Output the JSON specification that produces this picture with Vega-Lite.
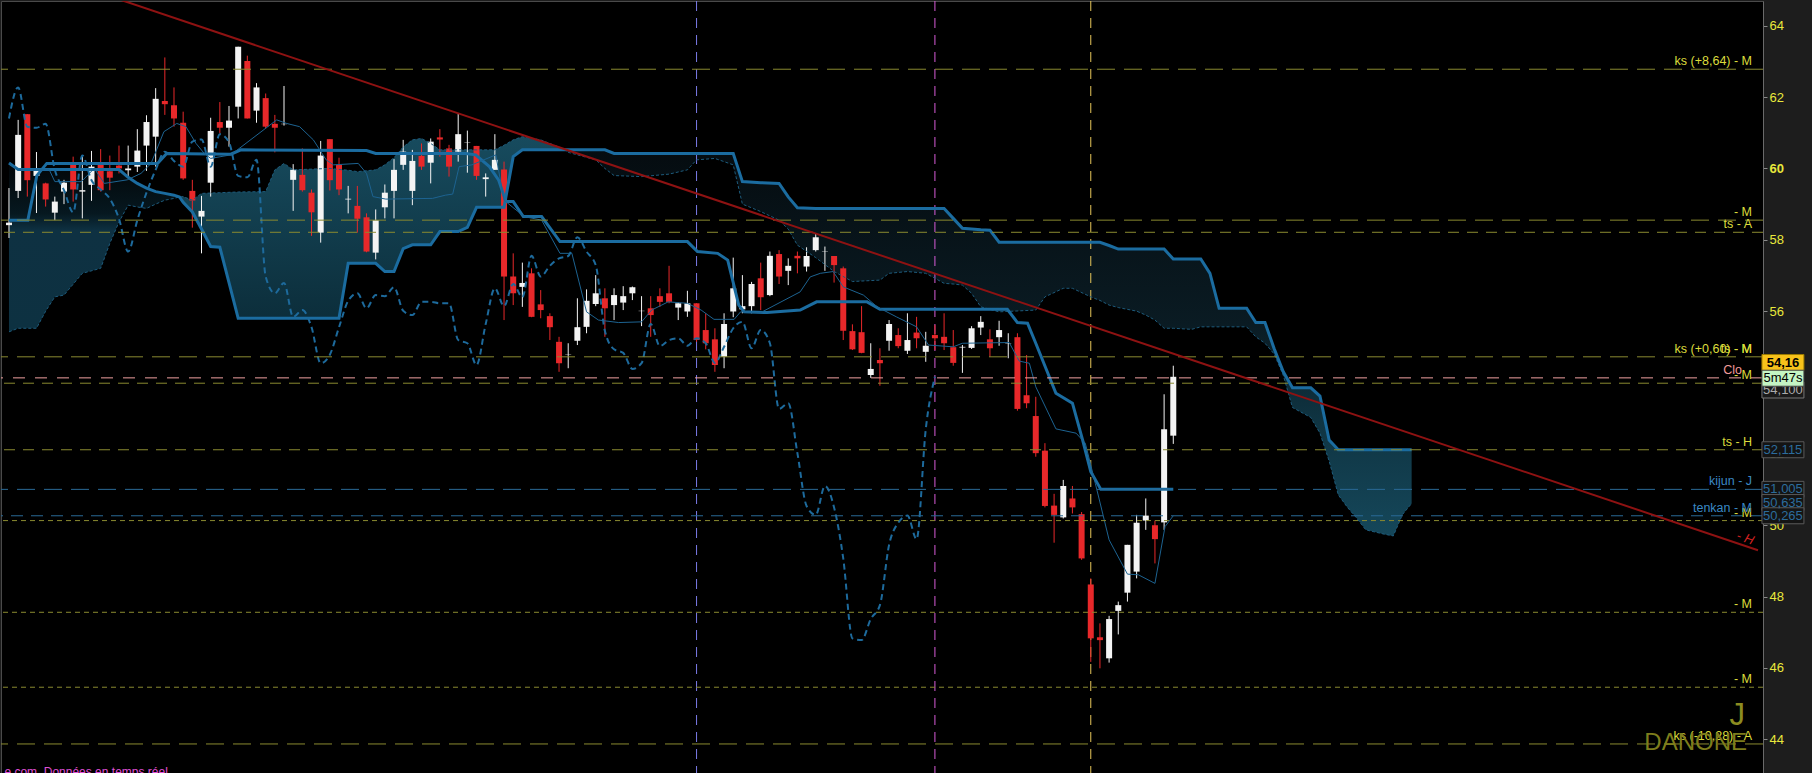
{
"$schema":"https://vega.github.io/schema/vega-lite/v6.json",
"width":1762,"height":772,
"autosize":{"type":"none"},
"padding":{"left":1,"top":1,"right":49,"bottom":0},
"config":{"background":"#1d1d1d","view":{"fill":"#000000","stroke":"#4a4a4a","strokeWidth":1},"font":"Liberation Sans",
 "axisY":{"grid":false,"domainColor":"#6a6a6a","tickColor":"#8a8a8a","tickSize":4,"labelColor":"#e8e83c","labelFont":"Liberation Sans","labelFontSize":13,"labelPadding":2,"labelOverlap":false,"labelFlush":false,"labelBound":false}},
"datasets":{
"candles":[
{"i":0,"o":58.41,"h":59.45,"l":58.05,"c":58.48},
{"i":1,"o":59.37,"h":61.36,"l":59.17,"c":60.94},
{"i":2,"o":61.52,"h":61.52,"l":59.21,"c":59.67},
{"i":3,"o":59.79,"h":60.46,"l":58.75,"c":59.93},
{"i":4,"o":59.58,"h":59.6,"l":58.93,"c":59.13},
{"i":5,"o":58.76,"h":59.21,"l":58.55,"c":59.07},
{"i":6,"o":59.35,"h":59.68,"l":59.0,"c":59.6},
{"i":7,"o":60.1,"h":60.33,"l":59.07,"c":59.41},
{"i":8,"o":59.35,"h":60.33,"l":58.6,"c":59.39},
{"i":9,"o":59.54,"h":60.49,"l":59.09,"c":60.05},
{"i":10,"o":60.1,"h":60.54,"l":59.35,"c":59.39},
{"i":11,"o":59.92,"h":60.36,"l":59.39,"c":59.74},
{"i":12,"o":60.08,"h":60.64,"l":59.86,"c":60.0},
{"i":13,"o":59.95,"h":60.64,"l":59.77,"c":60.0},
{"i":14,"o":60.05,"h":61.1,"l":59.9,"c":60.5},
{"i":15,"o":60.64,"h":61.49,"l":59.93,"c":61.3},
{"i":16,"o":60.89,"h":62.25,"l":60.05,"c":61.95},
{"i":17,"o":61.89,"h":63.11,"l":61.5,"c":61.8},
{"i":18,"o":61.77,"h":62.27,"l":61.17,"c":61.4},
{"i":19,"o":61.28,"h":61.59,"l":59.68,"c":59.72},
{"i":20,"o":59.37,"h":59.68,"l":58.34,"c":59.1},
{"i":21,"o":58.65,"h":59.23,"l":57.62,"c":58.81},
{"i":22,"o":59.6,"h":61.42,"l":59.21,"c":61.05},
{"i":23,"o":61.3,"h":61.86,"l":60.98,"c":61.14},
{"i":24,"o":61.14,"h":61.75,"l":60.61,"c":61.34},
{"i":25,"o":61.73,"h":63.41,"l":61.4,"c":63.41},
{"i":26,"o":63.01,"h":63.16,"l":61.4,"c":61.4},
{"i":27,"o":61.62,"h":62.39,"l":61.28,"c":62.27},
{"i":28,"o":61.97,"h":62.1,"l":61.12,"c":61.17},
{"i":29,"o":61.25,"h":61.5,"l":60.45,"c":61.14},
{"i":30,"o":61.24,"h":62.31,"l":61.2,"c":61.25},
{"i":31,"o":59.68,"h":60.12,"l":58.81,"c":59.96},
{"i":32,"o":59.82,"h":60.56,"l":59.35,"c":59.39},
{"i":33,"o":59.32,"h":59.41,"l":58.11,"c":58.77},
{"i":34,"o":58.2,"h":60.77,"l":57.92,"c":60.36},
{"i":35,"o":60.82,"h":60.82,"l":59.38,"c":59.67},
{"i":36,"o":60.1,"h":60.3,"l":59.25,"c":59.41},
{"i":37,"o":59.13,"h":59.51,"l":58.74,"c":59.15},
{"i":38,"o":58.95,"h":59.51,"l":58.2,"c":58.59},
{"i":39,"o":58.63,"h":58.74,"l":57.65,"c":57.67},
{"i":40,"o":57.64,"h":58.85,"l":57.45,"c":58.55},
{"i":41,"o":58.91,"h":59.55,"l":58.6,"c":59.32},
{"i":42,"o":59.37,"h":60.26,"l":58.6,"c":59.96},
{"i":43,"o":60.1,"h":60.8,"l":59.96,"c":60.47},
{"i":44,"o":59.37,"h":60.52,"l":58.97,"c":60.21},
{"i":45,"o":60.35,"h":60.7,"l":59.96,"c":60.05},
{"i":46,"o":60.16,"h":60.84,"l":59.58,"c":60.75},
{"i":47,"o":60.87,"h":61.1,"l":60.33,"c":60.81},
{"i":48,"o":60.56,"h":60.66,"l":59.77,"c":60.05},
{"i":49,"o":60.47,"h":61.54,"l":60.19,"c":60.96},
{"i":50,"o":60.72,"h":61.06,"l":59.88,"c":60.73},
{"i":51,"o":60.63,"h":60.63,"l":59.68,"c":59.79},
{"i":52,"o":59.7,"h":59.86,"l":59.21,"c":59.75},
{"i":53,"o":59.96,"h":60.96,"l":59.96,"c":60.24},
{"i":54,"o":59.97,"h":60.19,"l":55.75,"c":56.97},
{"i":55,"o":56.97,"h":57.62,"l":56.17,"c":56.5},
{"i":56,"o":56.68,"h":57.36,"l":56.12,"c":56.79},
{"i":57,"o":57.06,"h":57.2,"l":55.83,"c":55.84},
{"i":58,"o":56.19,"h":56.59,"l":55.8,"c":56.03},
{"i":59,"o":55.86,"h":55.94,"l":55.19,"c":55.55},
{"i":60,"o":55.14,"h":55.28,"l":54.3,"c":54.54},
{"i":61,"o":54.77,"h":55.1,"l":54.4,"c":54.78},
{"i":62,"o":55.17,"h":56.36,"l":55.05,"c":55.55},
{"i":63,"o":55.56,"h":56.61,"l":55.38,"c":56.29},
{"i":64,"o":56.2,"h":57.01,"l":56.14,"c":56.5},
{"i":65,"o":56.36,"h":56.64,"l":55.28,"c":56.08},
{"i":66,"o":56.17,"h":56.64,"l":55.75,"c":56.45},
{"i":67,"o":56.24,"h":56.7,"l":56.03,"c":56.42},
{"i":68,"o":56.5,"h":56.69,"l":56.31,"c":56.67},
{"i":69,"o":56.0,"h":56.42,"l":55.58,"c":56.01},
{"i":70,"o":56.08,"h":56.42,"l":55.28,"c":55.89},
{"i":71,"o":56.42,"h":56.64,"l":56.12,"c":56.26},
{"i":72,"o":56.5,"h":57.27,"l":56.22,"c":56.26},
{"i":73,"o":56.1,"h":56.24,"l":55.75,"c":56.22},
{"i":74,"o":55.99,"h":56.57,"l":55.84,"c":56.22},
{"i":75,"o":56.22,"h":56.22,"l":55.14,"c":55.19},
{"i":76,"o":55.47,"h":55.94,"l":54.93,"c":55.1},
{"i":77,"o":55.21,"h":55.52,"l":54.3,"c":54.49},
{"i":78,"o":54.72,"h":55.94,"l":54.4,"c":55.64},
{"i":79,"o":55.99,"h":57.5,"l":55.83,"c":56.64},
{"i":80,"o":56.05,"h":57.01,"l":55.94,"c":56.14},
{"i":81,"o":56.14,"h":56.82,"l":55.94,"c":56.76},
{"i":82,"o":56.92,"h":57.36,"l":56.03,"c":56.39},
{"i":83,"o":56.45,"h":57.67,"l":56.42,"c":57.55},
{"i":84,"o":57.6,"h":57.71,"l":56.76,"c":56.97},
{"i":85,"o":57.13,"h":57.48,"l":56.73,"c":57.27},
{"i":86,"o":57.55,"h":57.67,"l":57.06,"c":57.48},
{"i":87,"o":57.25,"h":57.79,"l":57.11,"c":57.545},
{"i":88,"o":57.71,"h":58.18,"l":57.67,"c":58.07},
{"i":89,"o":57.66,"h":57.81,"l":57.13,"c":57.67},
{"i":90,"o":57.545,"h":57.545,"l":56.8,"c":57.29},
{"i":91,"o":57.2,"h":57.25,"l":55.19,"c":55.45},
{"i":92,"o":55.44,"h":55.63,"l":54.91,"c":54.93},
{"i":93,"o":55.41,"h":56.14,"l":54.82,"c":54.83},
{"i":94,"o":54.21,"h":55.1,"l":54.13,"c":54.38},
{"i":95,"o":54.63,"h":54.96,"l":53.91,"c":54.54},
{"i":96,"o":55.17,"h":55.75,"l":54.89,"c":55.64},
{"i":97,"o":55.33,"h":55.52,"l":54.96,"c":55.02},
{"i":98,"o":54.89,"h":55.94,"l":54.8,"c":55.19},
{"i":99,"o":55.4,"h":55.84,"l":54.96,"c":55.24},
{"i":100,"o":54.86,"h":55.42,"l":54.58,"c":55.03},
{"i":101,"o":55.33,"h":55.61,"l":54.91,"c":55.24},
{"i":102,"o":55.28,"h":55.94,"l":54.91,"c":55.1},
{"i":103,"o":54.99,"h":55.47,"l":54.47,"c":54.55},
{"i":104,"o":54.98,"h":55.05,"l":54.27,"c":55.0},
{"i":105,"o":54.97,"h":55.58,"l":54.94,"c":55.52},
{"i":106,"o":55.54,"h":55.86,"l":55.33,"c":55.7},
{"i":107,"o":55.21,"h":55.49,"l":54.72,"c":54.96},
{"i":108,"o":55.27,"h":55.73,"l":55.03,"c":55.47},
{"i":109,"o":55.09,"h":55.38,"l":54.68,"c":55.1},
{"i":110,"o":55.27,"h":55.38,"l":53.21,"c":53.26},
{"i":111,"o":53.64,"h":54.77,"l":53.28,"c":53.42},
{"i":112,"o":53.06,"h":53.6,"l":51.92,"c":52.02},
{"i":113,"o":52.09,"h":52.3,"l":50.5,"c":50.54},
{"i":114,"o":50.55,"h":50.88,"l":49.51,"c":50.29},
{"i":115,"o":50.22,"h":51.27,"l":50.19,"c":51.1},
{"i":116,"o":50.75,"h":51.1,"l":50.33,"c":50.5},
{"i":117,"o":50.31,"h":50.37,"l":49.03,"c":49.07},
{"i":118,"o":48.34,"h":48.51,"l":46.17,"c":46.83},
{"i":119,"o":46.86,"h":47.25,"l":45.99,"c":46.78},
{"i":120,"o":46.27,"h":47.46,"l":46.15,"c":47.37},
{"i":121,"o":47.6,"h":47.86,"l":46.94,"c":47.76},
{"i":122,"o":48.11,"h":49.45,"l":47.86,"c":49.45},
{"i":123,"o":48.7,"h":50.29,"l":48.51,"c":50.07},
{"i":124,"o":50.13,"h":50.75,"l":49.87,"c":50.27},
{"i":125,"o":50.0,"h":50.13,"l":48.93,"c":49.61},
{"i":126,"o":50.08,"h":53.67,"l":49.87,"c":52.69},
{"i":127,"o":52.51,"h":54.47,"l":52.28,"c":54.16}
],
"cloud":[
{"i":0,"a":55.42,"b":60.15},{"i":1,"a":55.52,"b":59.97},{"i":3,"a":55.52,"b":59.97},{"i":4,"a":56.0,"b":59.97},{"i":5,"a":56.4,"b":59.97},{"i":6,"a":56.45,"b":59.97},{"i":8,"a":57.06,"b":59.97},{"i":10,"a":57.2,"b":59.97},{"i":11,"a":57.9,"b":59.97},{"i":12,"a":58.5,"b":59.97},{"i":13,"a":58.97,"b":59.75},{"i":14,"a":58.92,"b":59.58},{"i":15,"a":58.88,"b":59.45},{"i":16,"a":59.0,"b":59.35},{"i":17,"a":59.11,"b":59.3},{"i":18,"a":59.16,"b":59.25},{"i":18.6,"a":59.2,"b":59.2},{"i":19,"a":59.21,"b":59.05},{"i":20,"a":59.11,"b":58.78},{"i":21,"a":59.3,"b":58.3},{"i":22,"a":59.31,"b":57.81},{"i":23,"a":59.32,"b":57.79},{"i":24,"a":59.33,"b":56.8},{"i":25,"a":59.34,"b":55.8},{"i":28,"a":59.35,"b":55.8},{"i":29,"a":59.96,"b":55.8},{"i":30,"a":60.14,"b":55.8},{"i":31,"a":59.96,"b":55.8},{"i":35,"a":60.0,"b":55.8},{"i":36,"a":59.97,"b":55.8},{"i":37,"a":59.95,"b":57.34},{"i":38,"a":59.91,"b":57.34},{"i":40,"a":59.96,"b":57.34},{"i":41,"a":60.1,"b":57.11},{"i":42,"a":60.3,"b":57.11},{"i":43,"a":60.6,"b":57.75},{"i":44,"a":60.8,"b":57.86},{"i":45,"a":60.84,"b":57.86},{"i":46,"a":60.7,"b":57.86},{"i":47,"a":60.52,"b":58.23},{"i":49,"a":60.52,"b":58.23},{"i":50,"a":60.52,"b":58.35},{"i":51,"a":60.52,"b":58.91},{"i":53,"a":60.52,"b":58.91},{"i":54,"a":60.65,"b":58.91},{"i":55,"a":60.8,"b":60.33},{"i":56,"a":60.89,"b":60.52},{"i":58,"a":60.8,"b":60.52},{"i":60,"a":60.6,"b":60.52},{"i":60.6,"a":60.52,"b":60.52},{"i":61,"a":60.45,"b":60.52},{"i":64,"a":60.24,"b":60.52},{"i":65,"a":60.0,"b":60.52},{"i":66,"a":59.8,"b":60.42},{"i":69,"a":59.77,"b":60.42},{"i":72,"a":59.84,"b":60.42},{"i":74,"a":59.96,"b":60.42},{"i":75,"a":60.24,"b":60.42},{"i":77,"a":60.28,"b":60.42},{"i":79,"a":60.1,"b":60.42},{"i":80,"a":59.0,"b":59.63},{"i":82,"a":58.79,"b":59.6},{"i":84,"a":58.55,"b":59.58},{"i":85,"a":58.3,"b":59.2},{"i":86,"a":57.85,"b":58.9},{"i":88,"a":57.5,"b":58.88},{"i":90,"a":57.11,"b":58.88},{"i":92,"a":56.83,"b":58.88},{"i":95,"a":56.87,"b":58.88},{"i":96,"a":57.06,"b":58.88},{"i":98,"a":57.11,"b":58.88},{"i":100,"a":57.06,"b":58.88},{"i":102,"a":56.78,"b":58.88},{"i":103,"a":56.76,"b":58.6},{"i":104,"a":56.73,"b":58.32},{"i":105,"a":56.5,"b":58.3},{"i":106,"a":56.12,"b":58.28},{"i":107,"a":56.05,"b":58.27},{"i":108,"a":55.98,"b":57.93},{"i":112,"a":56.03,"b":57.93},{"i":113,"a":56.4,"b":57.93},{"i":115,"a":56.64,"b":57.93},{"i":116,"a":56.64,"b":57.93},{"i":118,"a":56.4,"b":57.93},{"i":119,"a":56.3,"b":57.93},{"i":120,"a":56.17,"b":57.84},{"i":121,"a":56.1,"b":57.74},{"i":123,"a":56.0,"b":57.74},{"i":124,"a":55.89,"b":57.74},{"i":125,"a":55.75,"b":57.74},{"i":126,"a":55.52,"b":57.74},{"i":127,"a":55.52,"b":57.46},{"i":129,"a":55.49,"b":57.46},{"i":130,"a":55.56,"b":57.46},{"i":131,"a":55.56,"b":57.06},{"i":132,"a":55.56,"b":56.08},{"i":135,"a":55.56,"b":56.08},{"i":136,"a":55.28,"b":55.68},{"i":137,"a":55.1,"b":55.68},{"i":138,"a":54.8,"b":54.95},{"i":139,"a":54.2,"b":54.3},{"i":140,"a":53.3,"b":53.85},{"i":142,"a":53.02,"b":53.85},{"i":143,"a":52.58,"b":53.62},{"i":144,"a":51.8,"b":52.39},{"i":145,"a":50.85,"b":52.115},{"i":146,"a":50.5,"b":52.115},{"i":147,"a":50.2,"b":52.115},{"i":148,"a":49.87,"b":52.115},{"i":150,"a":49.75,"b":52.115},{"i":151,"a":49.7,"b":52.115},{"i":152,"a":50.3,"b":52.115},{"i":153,"a":50.61,"b":52.115}
],
"kijun":[
{"i":0,"v":58.55},{"i":2.06,"v":58.55},{"i":3.04,"v":59.8},{"i":4.12,"v":60.14},{"i":16.2,"v":60.14},{"i":17.2,"v":60.42},{"i":24.2,"v":60.4},{"i":25.3,"v":60.52},{"i":39,"v":60.5},{"i":40,"v":60.42},{"i":49.8,"v":60.42},{"i":50.9,"v":60.38},{"i":52.4,"v":60.05},{"i":53.4,"v":59.68},{"i":54.2,"v":59.07},{"i":55,"v":59.07},{"i":56.1,"v":58.65},{"i":58.1,"v":58.65},{"i":60.1,"v":57.95},{"i":74,"v":57.95},{"i":75.1,"v":57.67},{"i":77.3,"v":57.62},{"i":78.4,"v":57.43},{"i":79.6,"v":56.17},{"i":80.2,"v":55.98},{"i":82.7,"v":55.96},{"i":86.3,"v":56.03},{"i":88.1,"v":56.26},{"i":93.6,"v":56.26},{"i":95,"v":56.05},{"i":108.9,"v":56.05},{"i":110,"v":55.68},{"i":111.1,"v":55.66},{"i":112,"v":55.1},{"i":114.2,"v":53.7},{"i":116,"v":53.42},{"i":117.1,"v":52.4},{"i":118,"v":51.5},{"i":119.1,"v":51.005},{"i":127,"v":51.005}
],
"tenkan":[
{"i":0,"v":60.14},{"i":1,"v":59.96},{"i":4.4,"v":59.96},{"i":5,"v":59.63},{"i":7.9,"v":59.63},{"i":9.3,"v":60.0},{"i":10.4,"v":59.58},{"i":12.9,"v":59.68},{"i":14.4,"v":59.86},{"i":15.5,"v":60.14},{"i":16.9,"v":61.03},{"i":18.3,"v":61.26},{"i":19.3,"v":61.17},{"i":20.4,"v":60.7},{"i":21.3,"v":60.42},{"i":22,"v":60.28},{"i":24.2,"v":60.38},{"i":29.2,"v":61.36},{"i":30.3,"v":61.26},{"i":31.7,"v":61.17},{"i":33.2,"v":60.8},{"i":34.6,"v":60.24},{"i":35.4,"v":60.1},{"i":38.1,"v":60.14},{"i":39,"v":59.86},{"i":39.7,"v":59.21},{"i":41.1,"v":59.14},{"i":46.2,"v":59.16},{"i":47.6,"v":59.25},{"i":48.4,"v":59.28},{"i":49.1,"v":60.05},{"i":50.5,"v":60.1},{"i":53.1,"v":60.38},{"i":53.4,"v":59.96},{"i":54,"v":59.11},{"i":56.2,"v":58.65},{"i":58.1,"v":58.55},{"i":60.1,"v":57.62},{"i":61.4,"v":57.62},{"i":63,"v":55.98},{"i":64.3,"v":55.75},{"i":66.5,"v":55.68},{"i":69,"v":55.7},{"i":70.1,"v":56.03},{"i":71.9,"v":56.26},{"i":74,"v":56.22},{"i":75.5,"v":56.03},{"i":76.9,"v":55.77},{"i":79.1,"v":55.77},{"i":79.8,"v":55.98},{"i":82,"v":55.96},{"i":86.3,"v":56.54},{"i":87.4,"v":56.96},{"i":88.5,"v":57.06},{"i":89.9,"v":57.11},{"i":91,"v":56.68},{"i":93.2,"v":56.45},{"i":94.7,"v":56.12},{"i":96.8,"v":55.84},{"i":99,"v":55.56},{"i":100.3,"v":55.05},{"i":103,"v":55.0},{"i":104,"v":55.1},{"i":109.1,"v":55.12},{"i":110.2,"v":54.6},{"i":111.3,"v":54.54},{"i":112,"v":53.88},{"i":114.2,"v":52.7},{"i":116.4,"v":52.58},{"i":117.4,"v":52.3},{"i":118.5,"v":51.17},{"i":120,"v":49.59},{"i":122,"v":48.63},{"i":123.2,"v":48.61},{"i":125,"v":48.37},{"i":126.1,"v":49.96},{"i":127,"v":50.265}
],
"chikou":[
{"i":0,"v":61.4},{"i":1,"v":62.27},{"i":2,"v":61.17},{"i":3,"v":61.14},{"i":4,"v":61.25},{"i":5,"v":59.96},{"i":6,"v":59.39},{"i":7,"v":58.77},{"i":8,"v":60.36},{"i":9,"v":59.67},{"i":10,"v":59.41},{"i":11,"v":59.15},{"i":12,"v":58.59},{"i":13,"v":57.67},{"i":14,"v":58.55},{"i":15,"v":59.32},{"i":16,"v":59.96},{"i":17,"v":60.47},{"i":18,"v":60.21},{"i":19,"v":60.05},{"i":20,"v":60.75},{"i":21,"v":60.81},{"i":22,"v":60.05},{"i":23,"v":60.96},{"i":24,"v":60.73},{"i":25,"v":59.79},{"i":26,"v":59.75},{"i":27,"v":60.24},{"i":28,"v":56.97},{"i":29,"v":56.5},{"i":30,"v":56.79},{"i":31,"v":55.84},{"i":32,"v":56.03},{"i":33,"v":55.55},{"i":34,"v":54.54},{"i":35,"v":54.78},{"i":36,"v":55.55},{"i":37,"v":56.29},{"i":38,"v":56.5},{"i":39,"v":56.08},{"i":40,"v":56.45},{"i":41,"v":56.42},{"i":42,"v":56.67},{"i":43,"v":56.01},{"i":44,"v":55.89},{"i":45,"v":56.26},{"i":46,"v":56.26},{"i":47,"v":56.22},{"i":48,"v":56.22},{"i":49,"v":55.19},{"i":50,"v":55.1},{"i":51,"v":54.49},{"i":52,"v":55.64},{"i":53,"v":56.64},{"i":54,"v":56.14},{"i":55,"v":56.76},{"i":56,"v":56.39},{"i":57,"v":57.55},{"i":58,"v":56.97},{"i":59,"v":57.27},{"i":60,"v":57.48},{"i":61,"v":57.545},{"i":62,"v":58.07},{"i":63,"v":57.67},{"i":64,"v":57.29},{"i":65,"v":55.45},{"i":66,"v":54.93},{"i":67,"v":54.83},{"i":68,"v":54.38},{"i":69,"v":54.54},{"i":70,"v":55.64},{"i":71,"v":55.02},{"i":72,"v":55.19},{"i":73,"v":55.24},{"i":74,"v":55.03},{"i":75,"v":55.24},{"i":76,"v":55.1},{"i":77,"v":54.55},{"i":78,"v":55.0},{"i":79,"v":55.52},{"i":80,"v":55.7},{"i":81,"v":54.96},{"i":82,"v":55.47},{"i":83,"v":55.1},{"i":84,"v":53.26},{"i":85,"v":53.42},{"i":86,"v":52.02},{"i":87,"v":50.54},{"i":88,"v":50.29},{"i":89,"v":51.1},{"i":90,"v":50.5},{"i":91,"v":49.07},{"i":92,"v":46.83},{"i":93,"v":46.78},{"i":94,"v":47.37},{"i":95,"v":47.76},{"i":96,"v":49.45},{"i":97,"v":50.07},{"i":98,"v":50.27},{"i":99,"v":49.61},{"i":100,"v":52.69},{"i":101,"v":54.16}
]
},
"layer":[
{"data":{"name":"cloud"},"transform":[{"filter":"datum.i <= 18.6"}],
 "mark":{"type":"area","color":{"gradient":"linear","x1":0,"y1":0,"x2":0,"y2":1,"stops":[{"offset":0,"color":"#020608"},{"offset":0.3,"color":"#061820"},{"offset":0.4,"color":"#0e3142"},{"offset":1,"color":"#0d3141"}]}},
 "encoding":{"x":{"field":"i","type":"quantitative","scale":{"domain":[-0.325,190.78],"nice":false,"zero":false},"axis":null},
  "y":{"field":"a","type":"quantitative","scale":{"domain":[43.056,64.692],"nice":false,"zero":false},
   "axis":{"orient":"right","values":[44,46,48,50,52,54,56,58,60,62,64],"title":null,"labelFontWeight":{"condition":{"test":"datum.value == 60","value":"bold"},"value":"normal"}}},
  "y2":{"field":"b"}}},
{"data":{"name":"cloud"},"transform":[{"filter":"datum.i >= 18.6 && datum.i <= 60.6"}],
 "mark":{"type":"area","color":{"gradient":"linear","x1":0,"y1":0,"x2":0,"y2":1,"stops":[{"offset":0,"color":"#174b5e"},{"offset":1,"color":"#0c2e3b"}]}},
 "encoding":{"x":{"field":"i","type":"quantitative","scale":{"domain":[-0.325,190.78],"nice":false,"zero":false},"axis":null},
  "y":{"field":"a","type":"quantitative","scale":{"domain":[43.056,64.692],"nice":false,"zero":false},"axis":{"orient":"right","values":[44,46,48,50,52,54,56,58,60,62,64],"title":null}},"y2":{"field":"b"}}},
{"data":{"name":"cloud"},"transform":[{"filter":"datum.i >= 60.6"}],
 "mark":{"type":"area","color":{"gradient":"linear","x1":0,"y1":0,"x2":0,"y2":1,"stops":[{"offset":0,"color":"#050c10"},{"offset":0.45,"color":"#0a1b23"},{"offset":0.7,"color":"#0f3442"},{"offset":1,"color":"#15475a"}]}},
 "encoding":{"x":{"field":"i","type":"quantitative","scale":{"domain":[-0.325,190.78],"nice":false,"zero":false},"axis":null},
  "y":{"field":"a","type":"quantitative","scale":{"domain":[43.056,64.692],"nice":false,"zero":false},"axis":{"orient":"right","values":[44,46,48,50,52,54,56,58,60,62,64],"title":null}},"y2":{"field":"b"}}},
{"data":{"values":[{"i":75}]},"mark":{"type":"rule","color":"#7b7be8","strokeDash":[10,7],"strokeWidth":1},
 "encoding":{"x":{"field":"i","type":"quantitative","scale":{"domain":[-0.325,190.78],"nice":false,"zero":false},"axis":null}}},
{"data":{"values":[{"i":101}]},"mark":{"type":"rule","color":"#d85cd8","strokeDash":[10,7],"strokeWidth":1},
 "encoding":{"x":{"field":"i","type":"quantitative","scale":{"domain":[-0.325,190.78],"nice":false,"zero":false},"axis":null}}},
{"data":{"values":[{"i":118}]},"mark":{"type":"rule","color":"#e8c85a","strokeDash":[10,7],"strokeWidth":1},
 "encoding":{"x":{"field":"i","type":"quantitative","scale":{"domain":[-0.325,190.78],"nice":false,"zero":false},"axis":null}}},
{"data":{"name":"candles"},"mark":{"type":"rule","strokeWidth":1},
 "encoding":{"x":{"field":"i","type":"quantitative","scale":{"domain":[-0.325,190.78],"nice":false,"zero":false},"axis":null},
  "y":{"field":"l","type":"quantitative","scale":{"domain":[43.056,64.692],"nice":false,"zero":false},"axis":{"orient":"right","values":[44,46,48,50,52,54,56,58,60,62,64],"title":null}},"y2":{"field":"h"},
  "color":{"condition":{"test":"datum.c >= datum.o","value":"#f4f4f4"},"value":"#e8282a"}}},
{"data":{"name":"candles"},"mark":{"type":"bar","width":6},
 "encoding":{"x":{"field":"i","type":"quantitative","scale":{"domain":[-0.325,190.78],"nice":false,"zero":false},"axis":null},
  "y":{"field":"o","type":"quantitative","scale":{"domain":[43.056,64.692],"nice":false,"zero":false},"axis":{"orient":"right","values":[44,46,48,50,52,54,56,58,60,62,64],"title":null}},"y2":{"field":"c"},
  "color":{"condition":{"test":"datum.c >= datum.o","value":"#f4f4f4"},"value":"#e8282a"}}},
{"data":{"name":"cloud"},"mark":{"type":"line","color":"#1d5b7c","strokeWidth":1,"strokeDash":[3,2]},
 "encoding":{"x":{"field":"i","type":"quantitative","scale":{"domain":[-0.325,190.78],"nice":false,"zero":false},"axis":null},
  "y":{"field":"a","type":"quantitative","scale":{"domain":[43.056,64.692],"nice":false,"zero":false},"axis":{"orient":"right","values":[44,46,48,50,52,54,56,58,60,62,64],"title":null}}}},
{"data":{"name":"cloud"},"mark":{"type":"line","color":"#1b6ca0","strokeWidth":3},
 "encoding":{"x":{"field":"i","type":"quantitative","scale":{"domain":[-0.325,190.78],"nice":false,"zero":false},"axis":null},
  "y":{"field":"b","type":"quantitative","scale":{"domain":[43.056,64.692],"nice":false,"zero":false},"axis":{"orient":"right","values":[44,46,48,50,52,54,56,58,60,62,64],"title":null}}}},
{"data":{"name":"kijun"},"mark":{"type":"line","color":"#1b6ca0","strokeWidth":3},
 "encoding":{"x":{"field":"i","type":"quantitative","scale":{"domain":[-0.325,190.78],"nice":false,"zero":false},"axis":null},
  "y":{"field":"v","type":"quantitative","scale":{"domain":[43.056,64.692],"nice":false,"zero":false},"axis":{"orient":"right","values":[44,46,48,50,52,54,56,58,60,62,64],"title":null}}}},
{"data":{"name":"tenkan"},"mark":{"type":"line","color":"#1d6391","strokeWidth":1},
 "encoding":{"x":{"field":"i","type":"quantitative","scale":{"domain":[-0.325,190.78],"nice":false,"zero":false},"axis":null},
  "y":{"field":"v","type":"quantitative","scale":{"domain":[43.056,64.692],"nice":false,"zero":false},"axis":{"orient":"right","values":[44,46,48,50,52,54,56,58,60,62,64],"title":null}}}},
{"data":{"name":"chikou"},"mark":{"type":"line","color":"#1d6a9c","strokeWidth":2,"strokeDash":[6,4],"interpolate":"monotone"},
 "encoding":{"x":{"field":"i","type":"quantitative","scale":{"domain":[-0.325,190.78],"nice":false,"zero":false},"axis":null},
  "y":{"field":"v","type":"quantitative","scale":{"domain":[43.056,64.692],"nice":false,"zero":false},"axis":{"orient":"right","values":[44,46,48,50,52,54,56,58,60,62,64],"title":null}}}},
{"data":{"values":[{"v":62.78},{"v":58.55},{"v":54.72},{"v":43.87}]},"mark":{"type":"rule","color":"#8a8a30","strokeDash":[18,9],"strokeWidth":1},
 "encoding":{"y":{"field":"v","type":"quantitative","scale":{"domain":[43.056,64.692],"nice":false,"zero":false},"axis":{"orient":"right","values":[44,46,48,50,52,54,56,58,60,62,64],"title":null}}}},
{"data":{"values":[{"v":58.21},{"v":52.115},{"v":53.98}]},"mark":{"type":"rule","color":"#8a8a30","strokeDash":[11,8],"strokeWidth":1},
 "encoding":{"y":{"field":"v","type":"quantitative","scale":{"domain":[43.056,64.692],"nice":false,"zero":false},"axis":{"orient":"right","values":[44,46,48,50,52,54,56,58,60,62,64],"title":null}}}},
{"data":{"values":[{"v":50.13},{"v":47.56},{"v":45.46}]},"mark":{"type":"rule","color":"#8a8a30","strokeDash":[5,4],"strokeWidth":1},
 "encoding":{"y":{"field":"v","type":"quantitative","scale":{"domain":[43.056,64.692],"nice":false,"zero":false},"axis":{"orient":"right","values":[44,46,48,50,52,54,56,58,60,62,64],"title":null}}}},
{"data":{"values":[{"v":54.13}]},"mark":{"type":"rule","color":"#f0a0a0","strokeDash":[12,10],"strokeWidth":1},
 "encoding":{"y":{"field":"v","type":"quantitative","scale":{"domain":[43.056,64.692],"nice":false,"zero":false},"axis":{"orient":"right","values":[44,46,48,50,52,54,56,58,60,62,64],"title":null}}}},
{"data":{"values":[{"v":51.005}]},"mark":{"type":"rule","color":"#2a6a96","strokeDash":[18,9],"strokeWidth":1},
 "encoding":{"y":{"field":"v","type":"quantitative","scale":{"domain":[43.056,64.692],"nice":false,"zero":false},"axis":{"orient":"right","values":[44,46,48,50,52,54,56,58,60,62,64],"title":null}}}},
{"data":{"values":[{"v":50.265}]},"mark":{"type":"rule","color":"#2a6a96","strokeDash":[12,8],"strokeWidth":1},
 "encoding":{"y":{"field":"v","type":"quantitative","scale":{"domain":[43.056,64.692],"nice":false,"zero":false},"axis":{"orient":"right","values":[44,46,48,50,52,54,56,58,60,62,64],"title":null}}}},
{"data":{"values":[{"i":12.22,"v":64.72},{"i":190.78,"v":49.3}]},"mark":{"type":"line","color":"#8e1212","strokeWidth":2,"clip":true},
 "encoding":{"x":{"field":"i","type":"quantitative","scale":{"domain":[-0.325,190.78],"nice":false,"zero":false},"axis":null},
  "y":{"field":"v","type":"quantitative","scale":{"domain":[43.056,64.692],"nice":false,"zero":false},"axis":{"orient":"right","values":[44,46,48,50,52,54,56,58,60,62,64],"title":null}}}},
{"data":{"values":[{"v":62.78,"t":"ks (+8,64) - M"},{"v":58.55,"t":"- M"},{"v":58.21,"t":"ts - A"},{"v":54.72,"t":"ks (+0,60) - M"},{"v":54.72,"t":"ts - M"},{"v":53.98,"t":"- M"},{"v":52.115,"t":"ts - H"},{"v":50.13,"t":"- M"},{"v":47.56,"t":"- M"},{"v":45.46,"t":"- M"},{"v":43.87,"t":"ks (-10,28) - A"}]},
 "mark":{"type":"text","align":"right","baseline":"alphabetic","dy":-4,"color":"#dcdc3c","fontSize":12.5,"font":"Liberation Sans"},
 "encoding":{"x":{"datum":190.13,"type":"quantitative","scale":{"domain":[-0.325,190.78],"nice":false,"zero":false},"axis":null},
  "y":{"field":"v","type":"quantitative","scale":{"domain":[43.056,64.692],"nice":false,"zero":false},"axis":{"orient":"right","values":[44,46,48,50,52,54,56,58,60,62,64],"title":null}},"text":{"field":"t"}}},
{"data":{"values":[{"v":54.13,"t":"Clo"}]},
 "mark":{"type":"text","align":"right","baseline":"alphabetic","dy":-4,"dx":-10,"color":"#f09a9a","fontSize":12.5,"font":"Liberation Sans"},
 "encoding":{"x":{"datum":190.13,"type":"quantitative","scale":{"domain":[-0.325,190.78],"nice":false,"zero":false},"axis":null},
  "y":{"field":"v","type":"quantitative","scale":{"domain":[43.056,64.692],"nice":false,"zero":false},"axis":{"orient":"right","values":[44,46,48,50,52,54,56,58,60,62,64],"title":null}},"text":{"field":"t"}}},
{"data":{"values":[{"v":51.005,"t":"kijun - J"},{"v":50.265,"t":"tenkan - M"}]},
 "mark":{"type":"text","align":"right","baseline":"alphabetic","dy":-4,"color":"#3a88c4","fontSize":12.5,"font":"Liberation Sans"},
 "encoding":{"x":{"datum":190.13,"type":"quantitative","scale":{"domain":[-0.325,190.78],"nice":false,"zero":false},"axis":null},
  "y":{"field":"v","type":"quantitative","scale":{"domain":[43.056,64.692],"nice":false,"zero":false},"axis":{"orient":"right","values":[44,46,48,50,52,54,56,58,60,62,64],"title":null}},"text":{"field":"t"}}},
{"data":{"values":[{"v":49.45,"t":"- H"}]},
 "mark":{"type":"text","align":"right","baseline":"alphabetic","color":"#d42020","fontSize":13,"fontStyle":"italic","font":"Liberation Sans","angle":20},
 "encoding":{"x":{"datum":190.13,"type":"quantitative","scale":{"domain":[-0.325,190.78],"nice":false,"zero":false},"axis":null},
  "y":{"field":"v","type":"quantitative","scale":{"domain":[43.056,64.692],"nice":false,"zero":false},"axis":{"orient":"right","values":[44,46,48,50,52,54,56,58,60,62,64],"title":null}},"text":{"field":"t"}}},
{"data":{"values":[{"v":44.4,"t":"J"}]},
 "mark":{"type":"text","align":"right","baseline":"alphabetic","color":"#8c8c20","fontSize":31,"font":"Liberation Sans"},
 "encoding":{"x":{"datum":189.36,"type":"quantitative","scale":{"domain":[-0.325,190.78],"nice":false,"zero":false},"axis":null},
  "y":{"field":"v","type":"quantitative","scale":{"domain":[43.056,64.692],"nice":false,"zero":false},"axis":{"orient":"right","values":[44,46,48,50,52,54,56,58,60,62,64],"title":null}},"text":{"field":"t"}}},
{"data":{"values":[{"v":43.7,"t":"DANONE"}]},
 "mark":{"type":"text","align":"right","baseline":"alphabetic","color":"#7d7d1c","fontSize":24,"font":"Liberation Sans"},
 "encoding":{"x":{"datum":189.58,"type":"quantitative","scale":{"domain":[-0.325,190.78],"nice":false,"zero":false},"axis":null},
  "y":{"field":"v","type":"quantitative","scale":{"domain":[43.056,64.692],"nice":false,"zero":false},"axis":{"orient":"right","values":[44,46,48,50,52,54,56,58,60,62,64],"title":null}},"text":{"field":"t"}}},
{"data":{"values":[{"v":42.97,"t":"e.com. Données en temps réel"}]},
 "mark":{"type":"text","align":"left","baseline":"alphabetic","color":"#e050d8","fontSize":12,"font":"Liberation Sans"},
 "encoding":{"x":{"datum":-0.5,"type":"quantitative","scale":{"domain":[-0.325,190.78],"nice":false,"zero":false},"axis":null},
  "y":{"field":"v","type":"quantitative","scale":{"domain":[43.056,64.692],"nice":false,"zero":false},"axis":{"orient":"right","values":[44,46,48,50,52,54,56,58,60,62,64],"title":null}},"text":{"field":"t"}}},
{"data":{"values":[{"v":52.115},{"v":51.005},{"v":50.635},{"v":50.265}]},
 "mark":{"type":"point","shape":"M-1,-0.381L1,-0.381L1,0.381L-1,0.381Z","size":1764,"filled":true,"fill":"#141414","stroke":"#5a5a5a","strokeWidth":1,"opacity":1},
 "encoding":{"x":{"datum":193.5,"type":"quantitative","scale":{"domain":[-0.325,190.78],"nice":false,"zero":false},"axis":null},
  "y":{"field":"v","type":"quantitative","scale":{"domain":[43.056,64.692],"nice":false,"zero":false},"axis":{"orient":"right","values":[44,46,48,50,52,54,56,58,60,62,64],"title":null}}}},
{"data":{"values":[{"v":52.115,"t":"52,115"},{"v":51.005,"t":"51,005"},{"v":50.635,"t":"50,635"},{"v":50.265,"t":"50,265"}]},
 "mark":{"type":"text","align":"center","baseline":"middle","color":"#2c6c9c","fontSize":13,"font":"Liberation Sans"},
 "encoding":{"x":{"datum":193.5,"type":"quantitative","scale":{"domain":[-0.325,190.78],"nice":false,"zero":false},"axis":null},
  "y":{"field":"v","type":"quantitative","scale":{"domain":[43.056,64.692],"nice":false,"zero":false},"axis":{"orient":"right","values":[44,46,48,50,52,54,56,58,60,62,64],"title":null}},"text":{"field":"t"}}},
{"data":{"values":[{"v":53.79}]},
 "mark":{"type":"point","shape":"M-1,-0.381L1,-0.381L1,0.381L-1,0.381Z","size":1764,"filled":true,"fill":"#1a1a1a","stroke":"#777777","strokeWidth":1,"opacity":1},
 "encoding":{"x":{"datum":193.5,"type":"quantitative","scale":{"domain":[-0.325,190.78],"nice":false,"zero":false},"axis":null},
  "y":{"field":"v","type":"quantitative","scale":{"domain":[43.056,64.692],"nice":false,"zero":false},"axis":{"orient":"right","values":[44,46,48,50,52,54,56,58,60,62,64],"title":null}}}},
{"data":{"values":[{"v":53.79,"t":"54,100"}]},
 "mark":{"type":"text","align":"center","baseline":"middle","color":"#aaaaaa","fontSize":13,"font":"Liberation Sans"},
 "encoding":{"x":{"datum":193.5,"type":"quantitative","scale":{"domain":[-0.325,190.78],"nice":false,"zero":false},"axis":null},
  "y":{"field":"v","type":"quantitative","scale":{"domain":[43.056,64.692],"nice":false,"zero":false},"axis":{"orient":"right","values":[44,46,48,50,52,54,56,58,60,62,64],"title":null}},"text":{"field":"t"}}},
{"data":{"values":[{"v":54.56}]},
 "mark":{"type":"point","shape":"M-1,-0.381L1,-0.381L1,0.381L-1,0.381Z","size":1764,"filled":true,"fill":"#f7c21a","stroke":"#9a7a00","strokeWidth":1,"opacity":1},
 "encoding":{"x":{"datum":193.5,"type":"quantitative","scale":{"domain":[-0.325,190.78],"nice":false,"zero":false},"axis":null},
  "y":{"field":"v","type":"quantitative","scale":{"domain":[43.056,64.692],"nice":false,"zero":false},"axis":{"orient":"right","values":[44,46,48,50,52,54,56,58,60,62,64],"title":null}}}},
{"data":{"values":[{"v":54.56,"t":"54,16"}]},
 "mark":{"type":"text","align":"center","baseline":"middle","color":"#000000","fontSize":13,"fontWeight":"bold","font":"Liberation Sans"},
 "encoding":{"x":{"datum":193.5,"type":"quantitative","scale":{"domain":[-0.325,190.78],"nice":false,"zero":false},"axis":null},
  "y":{"field":"v","type":"quantitative","scale":{"domain":[43.056,64.692],"nice":false,"zero":false},"axis":{"orient":"right","values":[44,46,48,50,52,54,56,58,60,62,64],"title":null}},"text":{"field":"t"}}},
{"data":{"values":[{"v":54.12}]},
 "mark":{"type":"point","shape":"M-1,-0.381L1,-0.381L1,0.381L-1,0.381Z","size":1764,"filled":true,"fill":"#c4f4c4","stroke":"#444444","strokeWidth":1,"opacity":1},
 "encoding":{"x":{"datum":193.5,"type":"quantitative","scale":{"domain":[-0.325,190.78],"nice":false,"zero":false},"axis":null},
  "y":{"field":"v","type":"quantitative","scale":{"domain":[43.056,64.692],"nice":false,"zero":false},"axis":{"orient":"right","values":[44,46,48,50,52,54,56,58,60,62,64],"title":null}}}},
{"data":{"values":[{"v":54.12,"t":"5m47s"}]},
 "mark":{"type":"text","align":"center","baseline":"middle","color":"#000000","fontSize":13,"font":"Liberation Sans"},
 "encoding":{"x":{"datum":193.5,"type":"quantitative","scale":{"domain":[-0.325,190.78],"nice":false,"zero":false},"axis":null},
  "y":{"field":"v","type":"quantitative","scale":{"domain":[43.056,64.692],"nice":false,"zero":false},"axis":{"orient":"right","values":[44,46,48,50,52,54,56,58,60,62,64],"title":null}},"text":{"field":"t"}}}
]
}
